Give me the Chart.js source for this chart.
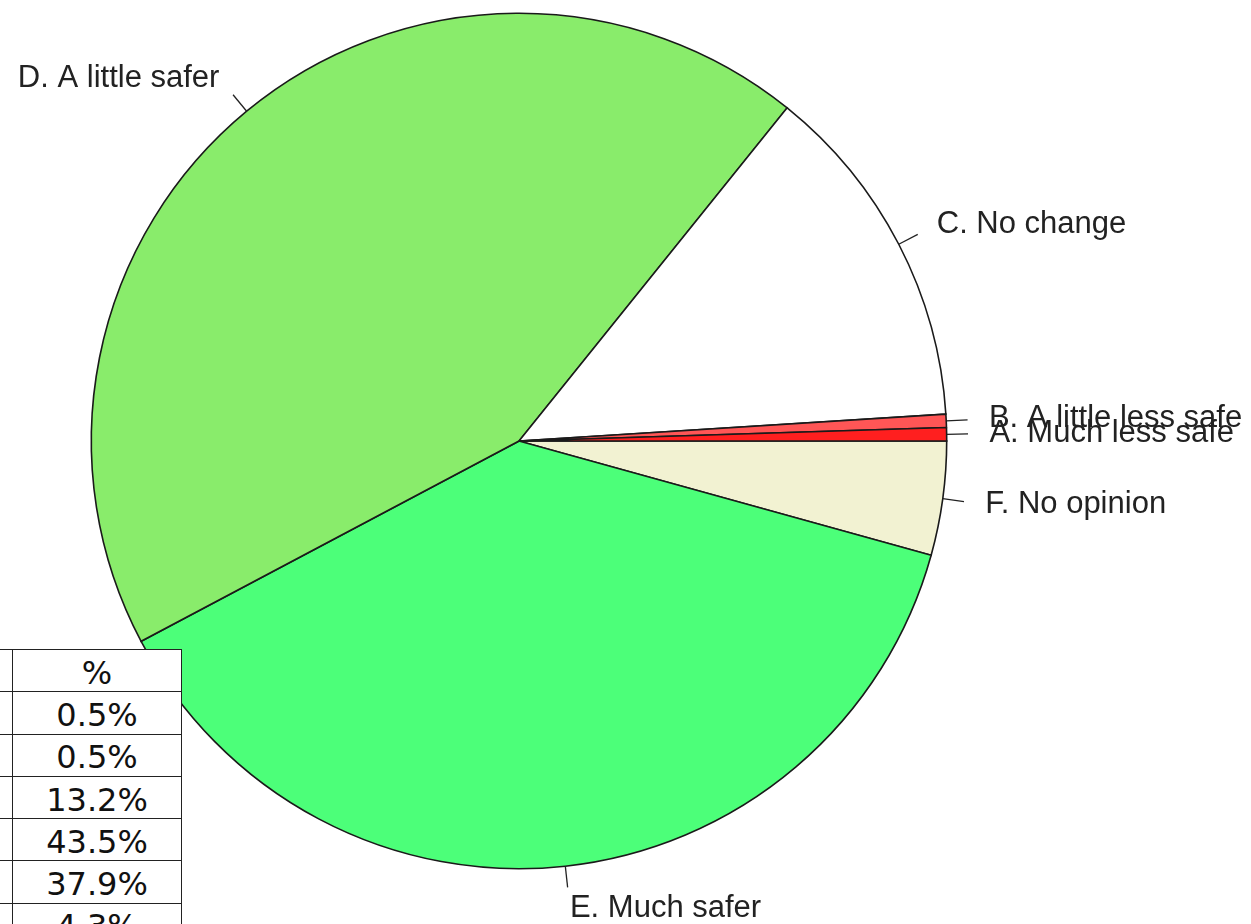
<!DOCTYPE html>
<html lang="en">
<head>
<meta charset="UTF-8"/>
<title>Safety opinion pie</title>
<script src="https://cdn.jsdelivr.net/npm/chart.js@4/dist/chart.umd.min.js"></script>
<style>
  *{box-sizing:border-box;margin:0;padding:0}
  body{background:#fff;width:1251px;height:924px;overflow:hidden;position:relative}
  #wrap{position:absolute;left:0;top:0;width:1251px;height:924px}
  table{position:absolute;left:-100px;top:649px;border-collapse:collapse;background:#fff;
        font-family:"DejaVu Sans",Verdana,sans-serif;font-size:32px;color:#111}
  td{border:1px solid #222;height:42.3px;padding:0;text-align:center;vertical-align:middle;line-height:32px}
  td.first{width:112px}
  td.pct{width:169px;padding-top:4px}
</style>
</head>
<body>
<div id="wrap"><canvas id="pie" width="1251" height="924"></canvas></div>
<table id="tbl"></table>

<script>
// ── Data ────────────────────────────────────────────────────────────────────
const categories = ['A. Much less safe', 'B. A little less safe', 'C. No change',
                    'D. A little safer', 'E. Much safer', 'F. No opinion'];
const percents   = [0.5, 0.5, 13.2, 43.5, 37.9, 4.3];
const colours    = ['#ff1f1f', '#ff5656', '#ffffff', '#89ec6b', '#4cff79', '#f2f2d2'];

// ── Table (% column) ────────────────────────────────────────────────────────
const tbl = document.getElementById('tbl');
tbl.innerHTML = '<tr><td class="first"></td><td class="pct">%</td></tr>' +
  percents.map(p => `<tr><td class="first"></td><td class="pct">${p.toFixed(1)}%</td></tr>`).join('');

// R-style pie: start at 3 o'clock, go counter-clockwise -> reverse for Chart.js (clockwise)
const rev = a => a.slice().reverse();

// labels with short tick lines, like R's pie()
const rLabels = {
  id: 'rLabels',
  afterDatasetsDraw(chart) {
    const ctx = chart.ctx;
    const meta = chart.getDatasetMeta(0);
    const labs = chart.data.labels;
    ctx.save();
    ctx.font = '31px "Liberation Sans", Arial, sans-serif';
    ctx.textBaseline = 'middle';
    ctx.fillStyle = '#222';
    ctx.strokeStyle = '#222';
    ctx.lineWidth = 1.3;
    meta.data.forEach((arc, i) => {
      const p = arc.getProps(['x', 'y', 'startAngle', 'endAngle', 'outerRadius'], true);
      const mid = (p.startAngle + p.endAngle) / 2;
      const c = Math.cos(mid), s = Math.sin(mid);
      const r = p.outerRadius;
      ctx.beginPath();
      ctx.moveTo(p.x + r * c, p.y + r * s);
      ctx.lineTo(p.x + 1.05 * r * c, p.y + 1.05 * r * s);
      ctx.stroke();
      ctx.textAlign = c >= 0 ? 'left' : 'right';
      ctx.fillText(labs[i], p.x + 1.1 * r * c, p.y + 1.1 * r * s);
    });
    ctx.restore();
  }
};

new Chart(document.getElementById('pie'), {
  type: 'pie',
  data: {
    labels: rev(categories),
    datasets: [{
      data: rev(percents),
      backgroundColor: rev(colours),
      borderColor: '#1a1a1a',
      borderWidth: 1.6,
      borderJoinStyle: 'miter'
    }]
  },
  options: {
    responsive: false,
    devicePixelRatio: 1,
    animation: false,
    rotation: 90,
    layout: { padding: { left: 90.5, top: 12.5, right: 303.5, bottom: 54.5 } },
    plugins: { legend: { display: false }, tooltip: { enabled: false } }
  },
  plugins: [rLabels]
});
</script>
</body>
</html>
